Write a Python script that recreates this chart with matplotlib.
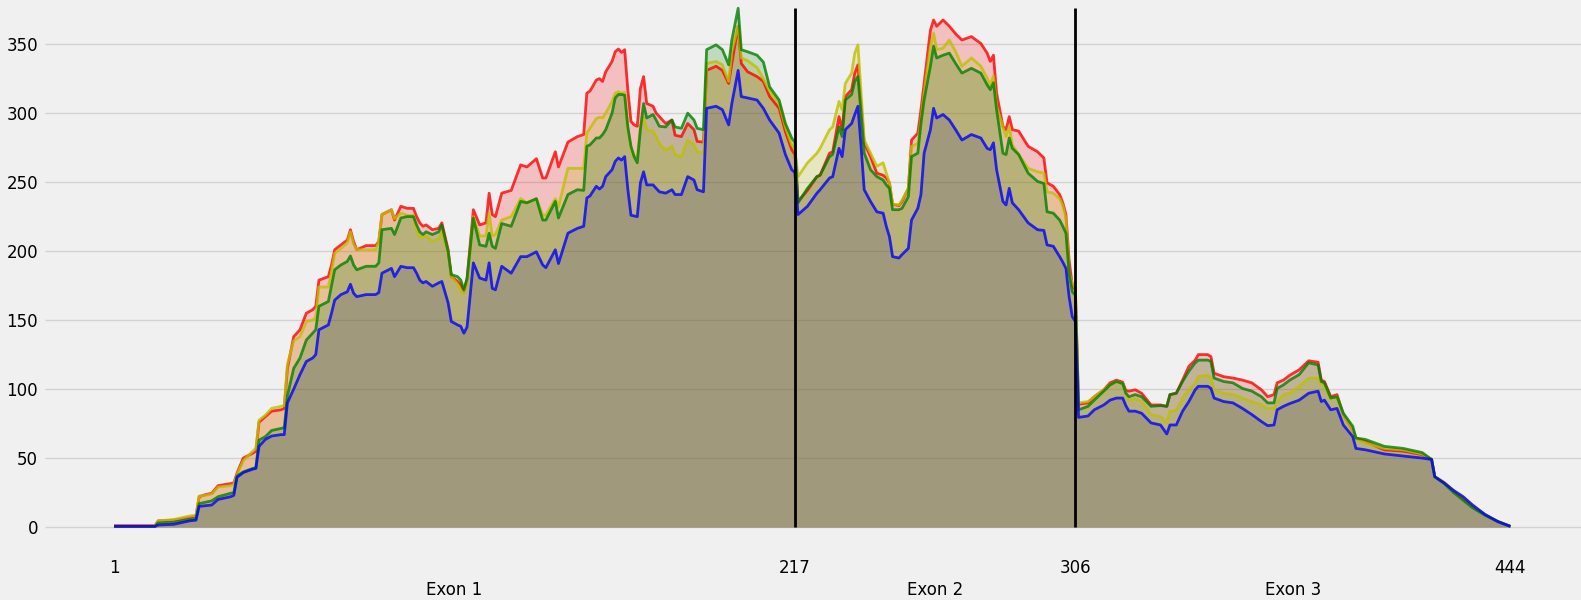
import matplotlib
matplotlib.use("Agg")
import matplotlib.pyplot as plt

# positions along the transcript (knots)
POS = [1, 14, 15, 20, 25, 27, 28, 30, 32, 34,
       38, 39, 40, 42, 45, 46, 47, 49, 51, 54,
       55, 56, 58, 60, 62, 64, 65, 66, 69, 70,
       71, 73, 75, 76, 77, 78, 81, 84, 85, 86,
       89, 90, 92, 94, 96, 97, 98, 99, 100, 102,
       104, 105, 107, 108, 110, 111, 112, 113, 115, 117,
       119, 120, 121, 122, 124, 127, 130, 132, 135, 137,
       138, 141, 142, 145, 148, 150, 151, 152, 154, 155,
       156, 157, 159, 160, 161, 162, 163, 164, 165, 166,
       167, 168, 169, 170, 172, 173, 174, 176, 178, 179,
       181, 183, 185, 186, 188, 189, 192, 194, 196, 197,
       199, 200, 202, 205, 207, 209, 212, 214, 216, 217,
       218, 221, 224, 225, 228, 229, 231, 232, 233, 235,
       236, 237, 238, 239, 241, 243, 245, 246, 247, 248,
       250, 251, 253, 254, 256, 257, 258, 260, 261, 262,
       264, 266, 268, 270, 273, 276, 278, 279, 280, 281,
       283, 284, 285, 286, 288, 291, 294, 296, 297, 299,
       301, 302, 303, 304, 305, 306, 307, 310, 312, 315,
       317, 319, 321, 322, 323, 325, 327, 330, 333, 335,
       336, 338, 340, 342, 344, 345, 348, 349, 350, 353,
       356, 359, 362, 365, 367, 369, 370, 372, 374, 377,
       380, 383, 384, 385, 387, 389, 391, 394, 395, 398,
       404, 410, 416, 419, 420, 423, 426, 429, 432, 436,
       440, 444]

RED = [1, 1, 4.5, 5, 7, 8, 22, 23.5, 24.5, 30,
       31.5, 32, 39, 50, 53.5, 55, 76, 80, 84, 85,
       86, 115, 138, 143, 155, 157.5, 160, 179, 181.5, 190,
       201, 204.5, 208, 215.5, 207, 201, 204, 204, 207, 226.5,
       230, 222.5, 232.5, 231, 231, 225, 220.5, 218, 219, 215.5,
       216.5, 220.5, 201, 181.5, 178, 175.5, 170.5, 180, 230, 219,
       220.5, 242, 226.5, 225, 242, 244, 262.5, 261, 267, 253,
       253, 272, 261, 279, 283, 284.5, 314.5, 316, 324, 325,
       323, 330, 337.5, 344.5, 346.5, 344, 346, 317, 294, 291.5,
       290.5, 318, 326.5, 307, 305, 300, 297.5, 292.5, 295, 284,
       283, 292.5, 288, 279.5, 279, 331, 334, 331, 321.5, 336,
       363, 336, 330, 326.5, 323, 312, 303.5, 286.5, 273.5, 270,
       236, 244, 254, 255, 271, 272, 297.5, 288, 312, 317,
       329, 335, 307, 278.5, 268.5, 256.5, 255, 253, 249.5, 234,
       233, 236, 245.5, 280.5, 285.5, 302.5, 321.5, 360, 367.5, 363,
       367.5, 363, 357.5, 353, 355.5, 350.5, 343.5, 337.5, 342, 314.5,
       290.5, 288, 297.5, 288, 287, 276, 272, 267.5, 249.5, 247,
       241, 235, 226.5, 193.5, 175.5, 172, 89, 90, 94.5, 99.5,
       104.5, 106.5, 105, 99, 98.5, 99.5, 97, 88.5, 88.5, 87.5,
       96, 97, 106.5, 116.5, 121, 125, 125, 123.5, 111.5, 109,
       108, 106.5, 104.5, 99.5, 94.5, 96, 104.5, 106.5, 110, 114,
       120.5, 119.5, 106.5, 105.5, 94.5, 96, 81.5, 70.5, 64.5, 62,
       56, 55, 52.5, 49, 36.5, 32, 26, 21, 15, 9,
       4, 0.5]

YELLOW = [0.5, 0.5, 4.5, 5.5, 8, 8.5, 22.5, 23, 24, 29,
          30, 31, 38, 48, 55, 57, 77.5, 81, 86, 87.5,
          88, 118, 135, 138, 149, 150, 152, 174, 174, 185,
          198.5, 202, 206, 214, 205, 201, 201, 201, 207, 226.5,
          230, 223.5, 227.5, 226, 226, 215, 210.5, 210, 211, 207,
          209, 214, 199, 181.5, 176, 172, 169.5, 175, 225, 211,
          211, 227.5, 211, 212, 222.5, 225, 238, 235, 238, 226,
          226, 238, 232, 260, 260, 260, 285.5, 289, 296, 297,
          296.5, 300, 308.5, 314.5, 315.5, 314.5, 315, 290, 273.5, 268.5,
          268.5, 290.5, 297.5, 288, 287, 283, 278, 273, 276, 270,
          268.5, 280.5, 277, 272, 271, 336, 337.5, 335, 323, 345,
          363, 340, 338, 333, 325, 316, 307, 290, 277, 274,
          254, 264, 271, 274.5, 288, 290, 308.5, 302.5, 321.5, 329,
          343.5, 349.5, 314.5, 280.5, 271, 261.5, 264, 256.5, 249.5, 234,
          233.5, 237, 245.5, 276, 278, 295, 314.5, 348.5, 358, 346,
          347, 353, 344.5, 334, 340, 334, 325.5, 320, 327, 305,
          290, 283, 290.5, 277, 270, 260, 257.5, 256.5, 243, 242,
          238, 233, 224, 184, 177, 173, 90, 91, 94.5, 99.5,
          103, 105.5, 104, 97, 92, 93, 91, 81.5, 80, 75.5,
          84, 84.5, 93.5, 99.5, 104.5, 109, 110, 108, 99.5, 97,
          96, 93.5, 91, 88.5, 86, 86, 91, 96, 97, 102,
          108, 108, 104, 102, 93, 94.5, 81.5, 70.5, 64, 61,
          57, 56, 53, 49, 36.5, 32.5, 26.5, 22, 15.5, 9,
          4, 0.5]

GREEN = [0.5, 0.5, 3, 3.5, 5.5, 6, 17, 18, 19, 22,
         24.5, 25, 37, 40, 42.5, 43, 63, 65.5, 70, 71.5,
         72, 95, 115, 122.5, 135.5, 140.5, 143, 160, 163.5, 175,
         186.5, 190, 192.5, 196.5, 190, 186.5, 189, 189, 191.5, 215.5,
         216.5, 212, 224, 225, 225, 219, 214, 212, 214, 212,
         214, 219, 199.5, 183, 181.5, 179, 172, 180, 224, 204.5,
         203.5, 213, 203.5, 202, 220, 218, 236, 235, 238, 222.5,
         222.5, 236, 224, 241, 244.5, 244, 276, 277, 282, 282,
         284.5, 288, 300, 311, 313.5, 313.5, 313, 290, 276, 268.5,
         264, 288, 307, 296.5, 299, 295, 290.5, 290, 295, 290,
         289, 300, 295, 289, 288, 346, 349.5, 346, 335, 353,
         376, 346, 344.5, 342, 337, 319, 309.5, 292.5, 282, 279,
         235, 245.5, 254, 255, 268.5, 270, 290, 283, 309.5, 313.5,
         323, 326.5, 300, 271, 259, 254, 251.5, 248, 245.5, 230,
         230, 231, 239.5, 268.5, 271, 292.5, 309.5, 334, 348.5, 340,
         342, 343.5, 336, 329, 332.5, 329, 320.5, 317, 322, 302.5,
         271, 270, 282, 274.5, 270, 256.5, 250.5, 249, 228.5, 227.5,
         222.5, 218, 213, 184, 170.5, 168, 85, 87.5, 92, 98.5,
         103, 105.5, 104, 97, 94.5, 96, 94.5, 87.5, 88, 87.5,
         96, 97, 105.5, 113, 119, 121, 121, 120, 108, 105.5,
         104.5, 100.5, 98.5, 94.5, 90, 90, 100.5, 103, 106.5, 110.5,
         119, 117.5, 105.5, 104.5, 93.5, 94.5, 82.5, 73, 64.5, 63.5,
         58.5, 57, 54, 49, 36.5, 31.5, 25, 19.5, 14, 8.5,
         4, 0.5]

BLUE = [0.5, 0.5, 1.5, 2, 4.5, 5, 15, 15.5, 16, 20,
        22, 23, 36, 39.5, 42, 42.5, 58.5, 63.5, 66, 67,
        67, 90, 100, 110.5, 120, 122.5, 125, 143, 146.5, 155,
        164.5, 168.5, 170.5, 176, 169.5, 167, 168.5, 168.5, 170, 184,
        187.5, 181.5, 189, 188, 188, 184, 179, 177, 178, 174.5,
        177, 178, 162.5, 149, 146.5, 145.5, 140.5, 145, 191.5, 180.5,
        179, 191.5, 173, 172, 189, 184, 196, 196, 199.5, 190,
        188, 201, 191, 213, 216.5, 218, 238.5, 240, 247, 245,
        247, 254, 259, 265, 267.5, 266, 268.5, 245, 226, 225.5,
        225, 249.5, 257.5, 248, 248, 245.5, 243, 242, 244.5, 241,
        241, 254, 251.5, 244.5, 243, 303.5, 305, 302.5, 291.5, 307,
        331, 312, 311, 309.5, 303.5, 295, 285.5, 270, 259, 257,
        226.5, 232.5, 242, 244.5, 253, 254, 274.5, 268.5, 288, 292.5,
        299, 305, 276, 244.5, 236, 228.5, 227.5, 218, 210.5, 196,
        195, 197.5, 202, 222.5, 231, 241, 271, 288, 303.5, 296.5,
        299, 295, 288, 280.5, 284.5, 282, 274.5, 273.5, 278.5, 259,
        236, 233.5, 245.5, 235, 230, 220.5, 215.5, 215, 204.5, 203.5,
        196, 192, 187.5, 167, 152.5, 149, 79.5, 80.5, 85, 88.5,
        92, 93.5, 93.5, 88, 84, 84, 82.5, 75.5, 74, 67.5,
        74, 74, 84, 91, 99.5, 102, 102, 100.5, 93.5, 91,
        90, 86, 81.5, 76.5, 73.5, 74, 85, 87.5, 89.5, 92,
        97, 98.5, 91, 92, 85, 86, 74, 65.5, 57, 56,
        53, 51.5, 50, 49, 36.5, 32, 26.5, 22, 16, 9,
        4, 0.5]

EXON_BOUNDS = [1, 217, 306, 444]
EXON_NAMES = ['Exon 1', 'Exon 2', 'Exon 3']

plt.style.use('fivethirtyeight')
plt.rcParams['font.family'] = ['DejaVu Sans']

fig = plt.figure(figsize=(15.81, 6), dpi=100)
ax = fig.add_axes([45 / 1581, 51 / 600, 1536 / 1581, 549 / 600])

# fills first (blue underneath), then the lines on top
for vals, c in [(BLUE, 'b'), (RED, 'r'), (YELLOW, 'y'), (GREEN, 'g')]:
    ax.fill_between(POS, vals, color=c, alpha=0.2, linewidth=0)
for vals, c in [(RED, 'r'), (YELLOW, 'y'), (GREEN, 'g'), (BLUE, 'b')]:
    ax.plot(POS, vals, color=c, alpha=0.8, linewidth=2)

top = max(max(RED), max(YELLOW), max(GREEN), max(BLUE))
ax.vlines(EXON_BOUNDS[1:3], 0, top, color='black', linewidth=2)

ax.set_xlim(-20.9, 466.4)
ax.set_ylim(-15.9, 382)
ax.set_yticks([0, 50, 100, 150, 200, 250, 300, 350])
ax.set_xticks(EXON_BOUNDS)
ax.set_xticklabels([str(b) for b in EXON_BOUNDS])
mids = [(EXON_BOUNDS[i] + EXON_BOUNDS[i + 1]) / 2 for i in range(3)]
ax.set_xticks(mids, minor=True)
ax.set_xticklabels(EXON_NAMES, minor=True)

ax.grid(axis='x', visible=False)
ax.grid(axis='y', color='#d2d2d2', linewidth=1.0)
ax.tick_params(axis='x', which='major', length=0, pad=7, labelsize=12)
ax.tick_params(axis='x', which='minor', length=0, pad=23, labelsize=12)
ax.tick_params(axis='y', length=0, pad=5, labelsize=12)
for s in ax.spines.values():
    s.set_visible(False)

fig.savefig('out.png', dpi=100, facecolor=fig.get_facecolor())
